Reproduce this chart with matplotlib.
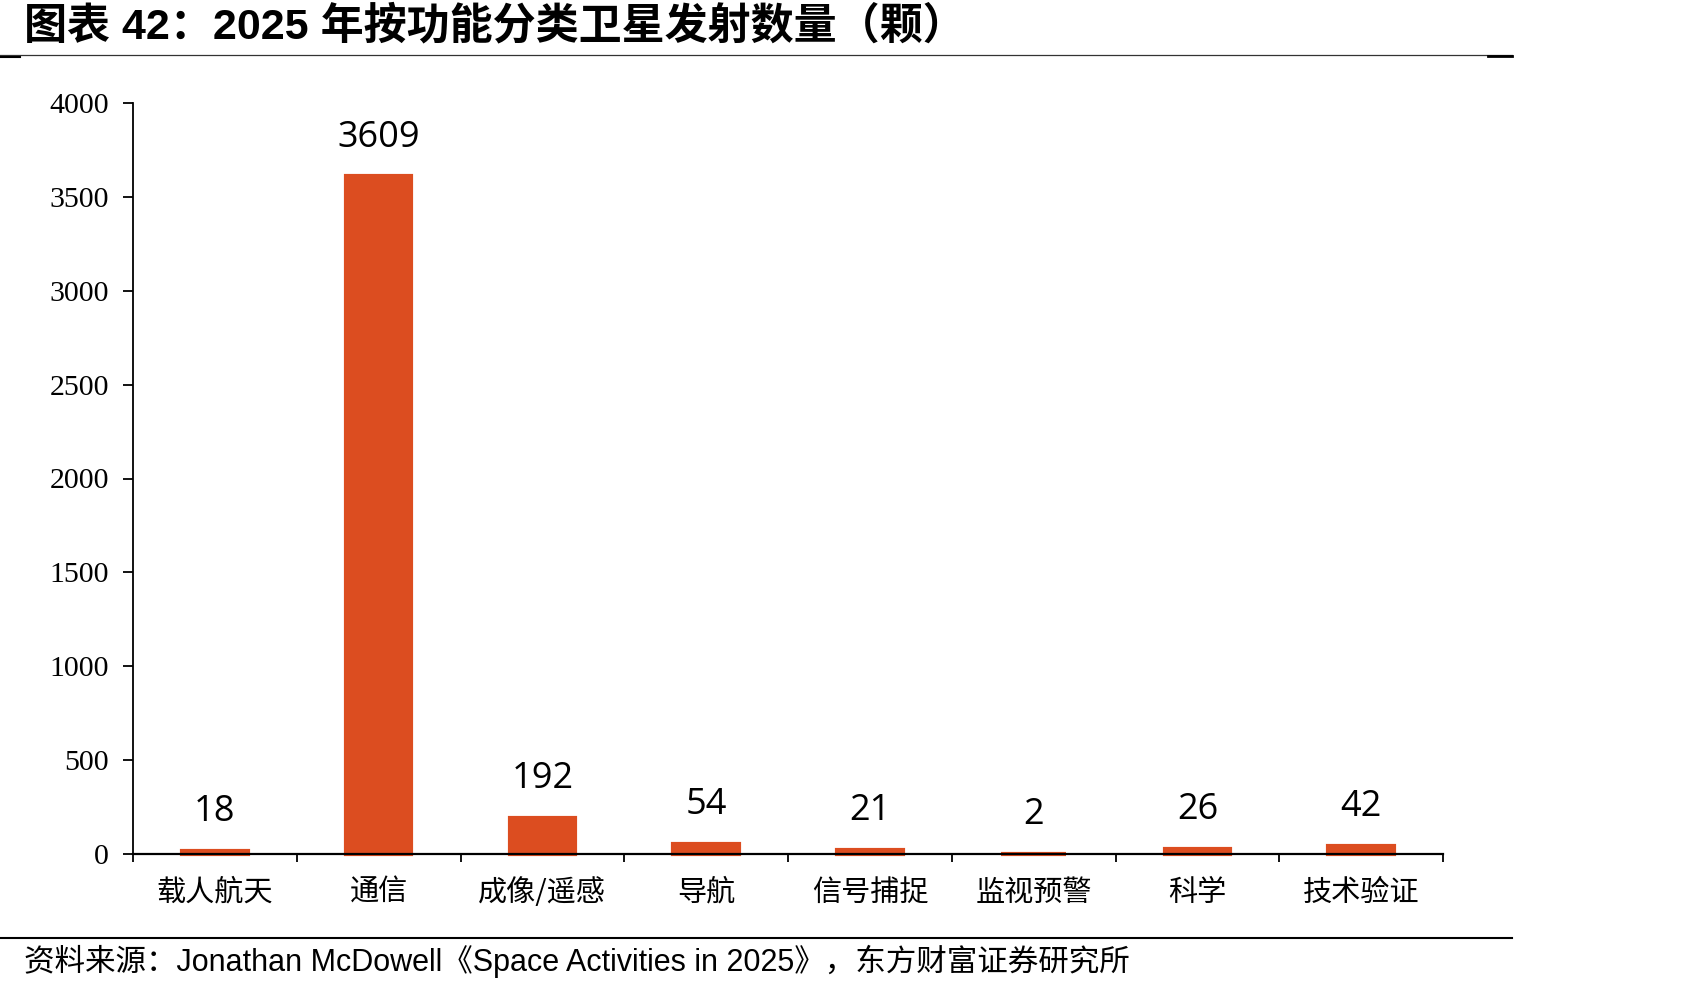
import matplotlib.pyplot as plt
from matplotlib.lines import Line2D

# data
categories = ["载人航天", "通信", "成像/遥感", "导航", "信号捕捉", "监视预警", "科学", "技术验证"]
counts = [18, 3609, 192, 54, 21, 2, 26, 42]
yticks = [0, 500, 1000, 1500, 2000, 2500, 3000, 3500, 4000]

title = "图表 42：2025 年按功能分类卫星发射数量（颗）"
source = "资料来源：Jonathan McDowell《Space Activities in 2025》，东方财富证券研究所"

bar_color = "#DC4D20"

W, H = 1701, 992
fig = plt.figure(figsize=(W / 100, H / 100), dpi=100)
ax = fig.add_axes([133 / W, 1 - 854 / H, (1443 - 133) / W, (854 - 103) / H])

x = list(range(len(categories)))
bars = ax.bar(x, counts, width=0.40, color=bar_color, edgecolor=bar_color,
              linewidth=3, zorder=2)
for b in bars:
    b.set_clip_on(False)

for xi, v in zip(x, counts):
    ax.annotate(str(v), (xi, v), xytext=(0, 28), textcoords="offset points",
                ha="center", va="center", fontsize=26, family="Open Sans")

ax.set_xlim(-0.5, len(categories) - 0.5)
ax.set_ylim(0, 4000)
ax.set_yticks(yticks)
ax.set_yticklabels([str(t) for t in yticks], family="Liberation Serif", fontsize=21.5)
ax.tick_params(axis="y", direction="out", length=7.2, width=1.3, pad=10)

# category labels between boundary ticks (excel style)
ax.set_xticks([i - 0.5 for i in range(len(categories) + 1)])
ax.set_xticklabels([])
ax.set_xticks(x, minor=True)
ax.set_xticklabels(categories, minor=True, family=["Noto Sans CJK SC"], fontsize=21)
ax.tick_params(axis="x", which="major", direction="out", length=6, width=1.3)
ax.tick_params(axis="x", which="minor", length=0, pad=17)

for s in ["top", "right"]:
    ax.spines[s].set_visible(False)
ax.spines["left"].set_linewidth(1.3)
ax.spines["bottom"].set_linewidth(1.6)
ax.spines["bottom"].set_zorder(3)

# header / footer
fig.text(24 / W, 1 - 27 / H, title, fontsize=31, fontweight="bold",
         family=["Liberation Sans", "Noto Sans CJK SC"], ha="left", va="center")
fig.add_artist(Line2D([0, 1512 / W], [1 - 55 / H] * 2, color="#333333", lw=0.9))
fig.add_artist(Line2D([1488 / W, 1512 / W], [1 - 56 / H] * 2, color="black", lw=2))
fig.add_artist(Line2D([0, 20 / W], [1 - 57 / H] * 2, color="black", lw=1.5))
fig.add_artist(Line2D([0, 1512 / W], [1 - 938 / H] * 2, color="black", lw=1.5))
fig.text(24 / W, 1 - 961 / H, source, fontsize=22,
         family=["Liberation Sans", "Noto Sans CJK SC"], ha="left", va="center")

fig.savefig("out.png", dpi=100)
